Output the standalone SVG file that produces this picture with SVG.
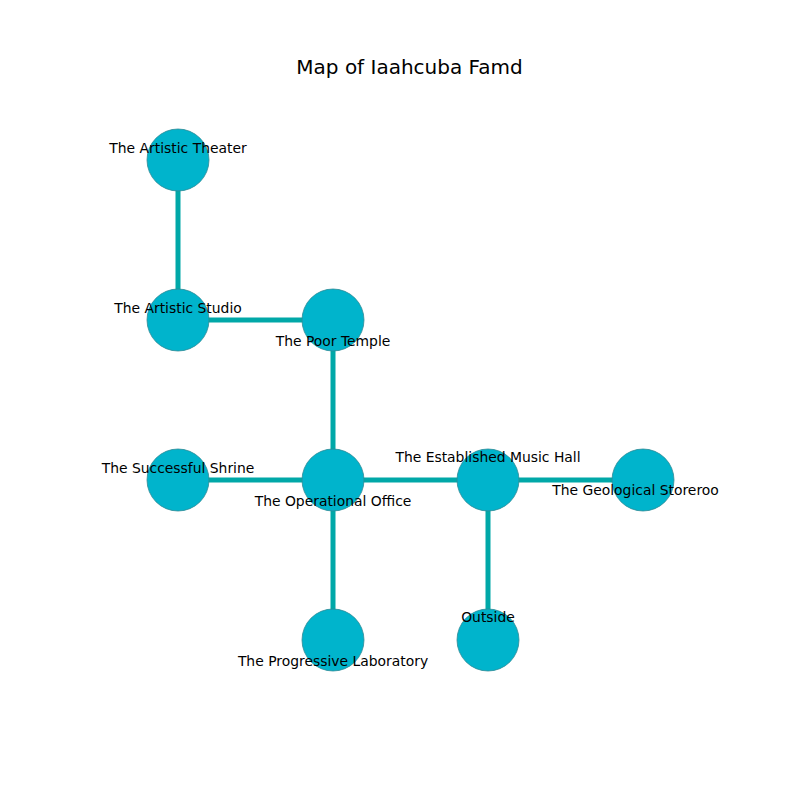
<svg xmlns="http://www.w3.org/2000/svg" width="800" height="800" viewBox="0 0 800 800">
<style>
.edge{stroke:#00a8a8;stroke-width:5;fill:none}
.node circle{fill:#00b4cc;stroke:#2e8a96;stroke-width:0.8}
text{font-family:"DejaVu Sans",sans-serif;font-size:13.9px;fill:#000;text-anchor:middle;dominant-baseline:central}
.title{font-size:20px}
</style>
<rect width="800" height="800" fill="#fff"/>
<text class="title" x="409.5" y="67">Map of Iaahcuba Famd</text>
<g id="connectors">
<line class="edge" x1="178" y1="160" x2="178" y2="320"/>
<line class="edge" x1="178" y1="320" x2="333" y2="320"/>
<line class="edge" x1="333" y1="320" x2="333" y2="480"/>
<line class="edge" x1="178" y1="480" x2="333" y2="480"/>
<line class="edge" x1="333" y1="480" x2="488" y2="480"/>
<line class="edge" x1="488" y1="480" x2="643" y2="480"/>
<line class="edge" x1="488" y1="480" x2="488" y2="640"/>
<line class="edge" x1="333" y1="480" x2="333" y2="640"/>
</g>
<g id="n-artistic-theater" class="node"><circle cx="178" cy="160" r="31"/><text x="178" y="148">The Artistic Theater</text></g>
<g id="n-artistic-studio" class="node"><circle cx="178" cy="320" r="31"/><text x="178" y="308">The Artistic Studio</text></g>
<g id="n-poor-temple" class="node"><circle cx="333" cy="320" r="31"/><text x="333" y="341">The Poor Temple</text></g>
<g id="n-successful-shrine" class="node"><circle cx="178" cy="480" r="31"/><text x="178" y="468">The Successful Shrine</text></g>
<g id="n-operational-office" class="node"><circle cx="333" cy="480" r="31"/><text x="333" y="501">The Operational Office</text></g>
<g id="n-music-hall" class="node"><circle cx="488" cy="480" r="31"/><text x="488" y="457">The Established Music Hall</text></g>
<g id="n-geological" class="node"><circle cx="643" cy="480" r="31"/><text x="635.5" y="490">The Geological Storeroo</text></g>
<g id="n-laboratory" class="node"><circle cx="333" cy="640" r="31"/><text x="333" y="661">The Progressive Laboratory</text></g>
<g id="n-outside" class="node"><circle cx="488" cy="640" r="31"/><text x="488" y="617">Outside</text></g>
</svg>
